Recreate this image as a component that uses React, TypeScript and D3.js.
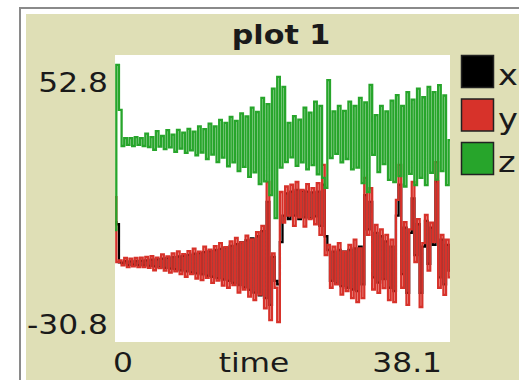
import * as d3 from "d3";

// plot settings
const title = "plot 1";
const xLabel = "time";
const xDomain = [0, 38.1];
const yDomain = [-30.8, 52.8];
const dt = 0.3; // sampling step in time units

const penNames = ["x", "y", "z"];
const penColors = ["#000000", "#d7322a", "#27a52b"];

// x pen (black) - mostly hidden under y
const xValues = [
  4.1, 3.5, -7.6, -7.8, -7.2, -8.4, -7.3, -8.3, -7.2, -8.4,
  -7.1, -8.5, -7.0, -8.6, -6.8, -8.8, -6.7, -9.0, -6.5, -9.2,
  -6.3, -9.4, -6.1, -9.6, -5.9, -9.9, -5.7, -10.2, -5.4, -10.5,
  -5.1, -10.8, -4.9, -11.1, -4.6, -11.5, -4.3, -11.8, -4.0, -12.2,
  -3.7, -12.6, -3.3, -13.0, -2.8, -13.6, -2.3, -14.2, -1.8, -14.9,
  -1.2, -15.6, -0.6, -16.4, 0.0, -17.2, 1.5, -18.0, 10.0, -20.0,
  -6.0, -13.0, -14.0, -1.7, 6.0, 12.5, 5.0, 13.0, 6.0, 13.5,
  5.0, 13.2, 5.5, 13.0, 5.3, 12.8, 5.8, 13.0, 3.0, 15.0,
  0.0, -4.0, -13.0, -4.5, -13.8, -4.0, -14.5, -4.5, -15.0, -4.0,
  -15.5, -3.5, -16.0, -3.0, -14.0, 12.0, 2.0, 10.0, -12.0, 1.0,
  -13.5, 0.0, -12.5, -1.5, -15.0, -3.0, -16.0, 6.0, 15.0, -11.0,
  2.5, -16.5, 1.0, 11.0, -5.5, 3.5, -16.5, -3.0, 4.5, -8.0,
  2.5, -2.5, 16.0, -12.0, -1.0, -14.0, -2.5, -10.0,
];

// y pen (red)
const yValues = [
  11.4, -7.5, -7.0, -8.5, -6.3, -9.0, -6.5, -8.8, -6.3, -9.0,
  -6.2, -9.0, -6.0, -9.2, -5.8, -9.9, -6.2, -9.3, -5.3, -10.0,
  -5.9, -10.6, -5.0, -10.2, -4.4, -11.0, -5.2, -11.8, -4.3, -11.0,
  -3.6, -12.3, -4.5, -12.8, -3.0, -12.1, -3.9, -13.6, -2.9, -12.9,
  -2.0, -14.4, -3.2, -15.0, -1.5, -14.2, -0.5, -16.4, -1.8, -15.5,
  0.2, -17.6, -0.9, -18.6, 1.2, -17.0, 3.0, -21.0, 15.8, -24.4,
  -5.0, -15.0, -25.0, 12.9, 4.0, 14.5, 6.0, 15.0, 3.0, 15.8,
  5.5, 13.5, 2.8, 15.2, 5.0, 14.0, 3.5, 15.5, 0.4, 20.8,
  -5.5, -2.5, -15.0, -3.0, -14.0, -2.0, -17.0, -4.5, -16.0, -2.5,
  -18.0, -1.0, -19.2, -3.5, -18.0, 17.0, 0.4, 14.0, -15.5, 3.3,
  -16.5, 2.0, -15.1, 0.4, -18.6, -1.0, -19.2, 10.6, 20.8, -15.0,
  4.1, -20.0, 2.0, 15.8, -7.5, 5.0, -20.6, -2.0, 6.2, -10.0,
  4.0, -1.7, 21.6, -15.0, 0.4, -17.1, -1.0, -12.0,
];

// z pen (green)
const zValues = [
  1.8, 49.9, 36.8, 26.3, 28.6, 26.6, 28.6, 26.3, 28.9, 26.6,
  28.6, 26.3, 29.9, 26.0, 28.9, 25.2, 30.6, 26.1, 29.2, 25.4,
  30.9, 25.9, 29.6, 24.6, 31.0, 25.5, 30.2, 24.3, 31.3, 25.0,
  30.5, 23.6, 32.0, 24.4, 31.2, 22.5, 32.8, 23.8, 32.0, 21.6,
  33.9, 22.9, 33.0, 20.4, 34.8, 21.5, 33.6, 19.0, 35.8, 20.2,
  34.9, 17.3, 37.5, 18.6, 36.2, 15.2, 40.3, 16.0, 38.5, 12.0,
  43.0, 5.3, 46.4, 20.0, 43.5, 21.6, 33.0, 23.0, 35.0, 20.5,
  34.0, 21.5, 37.5, 19.5, 36.0, 20.7, 39.2, 18.0, 38.0, 17.0,
  14.1, 45.5, 22.8, 36.4, 24.0, 38.0, 21.5, 36.5, 22.5, 39.2,
  19.5, 38.0, 20.0, 40.3, 15.5, 39.0, 12.9, 44.1, 23.7, 35.3,
  18.7, 38.0, 21.0, 36.4, 16.4, 39.5, 15.8, 41.1, 17.5, 38.0,
  14.5, 42.0, 18.2, 39.8, 14.9, 43.0, 17.0, 40.5, 14.9, 43.5,
  18.5, 42.0, 16.5, 44.0, 19.0, 41.0, 14.9, 28.0,
];

const pens = [xValues, yValues, zValues];

const W = 519;
const H = 380;
const plot = { left: 115, right: 450, top: 55, bottom: 342 };
const bg = "#dfdfb6";
const stretch = 1.16; // the reference glyphs are a bit wide

function Label({ x, y, anchor = "start", size = 27, bold = false, children }: any) {
  return (
    <text
      transform={`translate(${x},${y}) scale(${stretch},1)`}
      textAnchor={anchor}
      fontSize={size}
      fontWeight={bold ? "bold" : "normal"}
      fill="#1a1a1a"
    >
      {children}
    </text>
  );
}

export default function App() {
  const x = d3.scaleLinear().domain(xDomain).range([plot.left, plot.right]);
  const y = d3.scaleLinear().domain(yDomain).range([plot.bottom, plot.top]);
  // pen traces drawn as steps: dense vertical strokes like the original
  const line = d3
    .line<number>()
    .x((_, i) => x(i * dt))
    .y((d) => y(d))
    .curve(d3.curveStep);

  return (
    <svg
      width={W}
      height={H}
      style={{ position: "absolute", left: 0, top: 0, fontFamily: "DejaVu Sans" }}
    >
      <rect width={W} height={H} fill="#ffffff" />
      {/* widget frame */}
      <rect x={20} y={8} width={W} height={H} fill="#ffffff" stroke="#8a8a8a" strokeWidth={2} />
      <rect x={26} y={14} width={W} height={H} fill={bg} />

      <Label x={281} y={44} anchor="middle" size={26} bold>
        {title}
      </Label>

      <rect
        x={plot.left}
        y={plot.top}
        width={plot.right - plot.left}
        height={plot.bottom - plot.top}
        fill="#ffffff"
      />
      <g fill="none" strokeWidth={2.3}>
        {pens.map((vals, k) => (
          <path key={penNames[k]} d={line(vals) ?? ""} stroke={penColors[k]} />
        ))}
      </g>

      {/* axis labels */}
      <Label x={108} y={92} anchor="end">
        {yDomain[1].toFixed(1)}
      </Label>
      <Label x={108} y={334} anchor="end">
        {yDomain[0].toFixed(1)}
      </Label>
      <Label x={113} y={372}>
        {String(xDomain[0])}
      </Label>
      <Label x={254} y={372} anchor="middle">
        {xLabel}
      </Label>
      <Label x={442} y={372} anchor="end">
        {xDomain[1].toFixed(1)}
      </Label>

      {/* legend */}
      {penNames.map((name, k) => (
        <g key={name} transform={`translate(461,${55 + k * 43.5})`}>
          <rect x={0.5} y={0.5} width={32} height={32} fill={penColors[k]} stroke="#222" strokeWidth={1.5} />
          <Label x={37} y={30} size={29}>
            {name}
          </Label>
        </g>
      ))}
    </svg>
  );
}
